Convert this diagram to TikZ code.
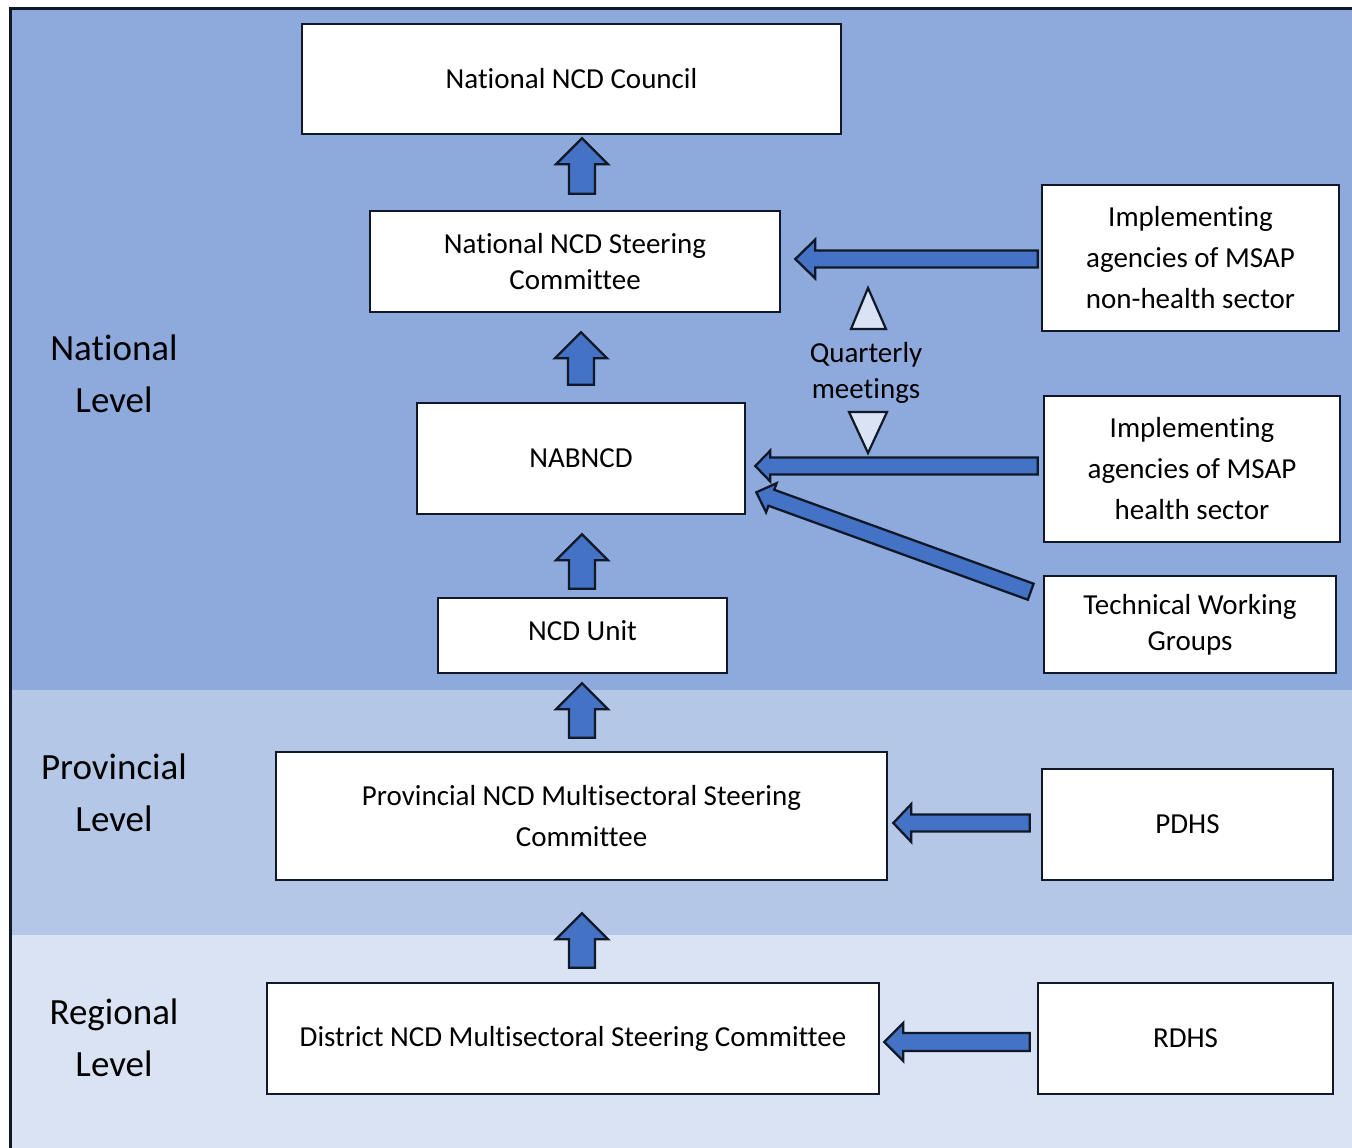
\documentclass[tikz,border=0pt]{standalone}
\usepackage{fontspec}
\setmainfont{Carlito}[Ligatures=NoCommon]
\usetikzlibrary{calc}

\definecolor{natblue}{HTML}{8EA9DB}
\definecolor{provblue}{HTML}{B4C7E7}
\definecolor{regblue}{HTML}{DAE3F3}
\definecolor{arrblue}{HTML}{4472C4}
\definecolor{edgecol}{HTML}{111827}

% tail, tip, half shaft, half head, head length
\newcommand\blockarrow[5]{%
  \coordinate (ba) at ($(#2)!#5!(#1)$);
  \draw[barrow] ($(#1)!#3!90:(#2)$) -- ($(ba)!#3!-90:(#1)$) -- ($(ba)!#4!-90:(#1)$) -- (#2)
    -- ($(ba)!#4!90:(#1)$) -- ($(ba)!#3!90:(#1)$) -- ($(#1)!#3!-90:(#2)$) -- cycle;
}

\begin{document}
\begin{tikzpicture}
      [%%%%%%%%%%%%%%%%%%%%%%%%%%%%%%
          x=0.5pt, y=-0.5pt,
          box/.style={rectangle,draw=edgecol,line width=1.3pt,fill=white,align=center,
                      inner sep=0pt,font=\fontsize{14.5}{20.5}\selectfont},
          tight/.style={font=\fontsize{14.5}{18}\selectfont},
          level/.style={align=center,font=\fontsize{18.5}{26}\selectfont},
          barrow/.style={draw=edgecol,line width=1.15pt,fill=arrblue,line join=miter},
          tri/.style={draw=edgecol,line width=1.1pt,fill=regblue,line join=miter}
      ]%%%%%%%%%%%%%%%%%%%%%%%%%%%%%%

  \clip (0,0) rectangle (1352,1147);
  \fill[white] (0,0) rectangle (1352,1147);

  % level bands
  \fill[natblue] (10,8) rectangle (1360,690);
  \fill[provblue] (10,690) rectangle (1360,935);
  \fill[regblue] (10,935) rectangle (1360,1155);
  \draw[edgecol,line width=1.5pt] (10,1160) -- (10,8) -- (1360,8);

  \node[level] (natlvl) at (114,374) {National\\Level};
  \node[level] (provlvl) at (114,793) {Provincial\\Level};
  \node[level] (reglvl) at (114,1038) {Regional\\Level};

  % main chain
  \node[box,minimum width=269.5pt,minimum height=55pt] (council) at (571.5,79) {National NCD Council};
  \node[box,tight,minimum width=205pt,minimum height=50.5pt] (steering) at (575,261.5) {National NCD Steering\\Committee};
  \node[box,minimum width=164pt,minimum height=55.5pt] (nabncd) at (581,458.5) {NABNCD};
  \node[box,minimum width=144.5pt,minimum height=37.5pt] (unit) at (582.5,635.5) {\raisebox{4.5pt}{NCD Unit}};
  \node[box,minimum width=305.5pt,minimum height=64pt] (prov) at (581.5,816) {Provincial NCD Multisectoral Steering\\Committee};
  \node[box,minimum width=306pt,minimum height=55.5pt] (dist) at (573,1038.5) {District NCD Multisectoral Steering Committee};

  % right column
  \node[box,minimum width=148.5pt,minimum height=73pt] (nonhealth) at (1190.5,258) {Implementing\\agencies of MSAP\\non-health sector};
  \node[box,minimum width=148pt,minimum height=73pt] (health) at (1192,469) {Implementing\\agencies of MSAP\\health sector};
  \node[box,tight,minimum width=146pt,minimum height=48.5pt] (twg) at (1190,624.5) {Technical Working\\Groups};
  \node[box,minimum width=145.5pt,minimum height=55.5pt] (pdhs) at (1187.5,824.5) {PDHS};
  \node[box,minimum width=147.5pt,minimum height=55.5pt] (rdhs) at (1185.5,1038.5) {RDHS};

  % quarterly meetings
  \node[tight,align=center] (qm) at (866,373) {Quarterly\\meetings};
  \draw[tri] (868,288) -- (886,329) -- (851,329) -- cycle;
  \draw[tri] (849,412) -- (887,412) -- (868,453) -- cycle;

  % upward arrows
  \coordinate (u1a) at ($(steering.north)+(7,-16)$);
  \coordinate (u1b) at ($(council.south)+(10.5,3)$);
  \coordinate (u2a) at ($(nabncd.north)+(0,-17)$);
  \coordinate (u2b) at ($(steering.south)+(6,19)$);
  \coordinate (u3a) at ($(unit.north)+(-0.5,-8)$);
  \coordinate (u3b) at ($(nabncd.south)+(1,19)$);
  \coordinate (u4a) at ($(prov.north)+(0.5,-13)$);
  \coordinate (u4b) at ($(unit.south)+(-0.5,9)$);
  \coordinate (u5a) at ($(dist.north)+(9,-14)$);
  \coordinate (u5b) at ($(prov.south)+(0.5,32)$);
  \foreach \a/\b in {u1a/u1b,u2a/u2b,u3a/u3b,u4a/u4b,u5a/u5b}
    \blockarrow{\a}{\b}{6.5pt}{13pt}{13pt};

  % arrows from the right
  \coordinate (nha) at ($(nonhealth.west)+(-3,1)$);
  \coordinate (nhb) at ($(steering.east)+(14,-2.5)$);
  \coordinate (ha) at ($(health.west)+(-5,-3)$);
  \coordinate (hb) at ($(nabncd.east)+(9,7.5)$);
  \coordinate (ta) at ($(twg.north west)+(-12,17)$);
  \coordinate (tb) at ($(nabncd.south east)+(10,-23)$);
  \coordinate (pa) at ($(pdhs.west)+(-11,-1.5)$);
  \coordinate (pb) at ($(prov.east)+(5,7)$);
  \coordinate (ra) at ($(rdhs.west)+(-7,3.5)$);
  \coordinate (rb) at ($(dist.east)+(4,3.5)$);

  \blockarrow{nha}{nhb}{4.25pt}{9.75pt}{10pt}
  \blockarrow{ha}{hb}{4.25pt}{7.75pt}{7.5pt}
  \blockarrow{ta}{tb}{4.25pt}{7.75pt}{8pt}
  \blockarrow{pa}{pb}{4.25pt}{9.5pt}{9pt}
  \blockarrow{ra}{rb}{4.5pt}{9.5pt}{9.5pt}

  \end{tikzpicture}
\end{document}
